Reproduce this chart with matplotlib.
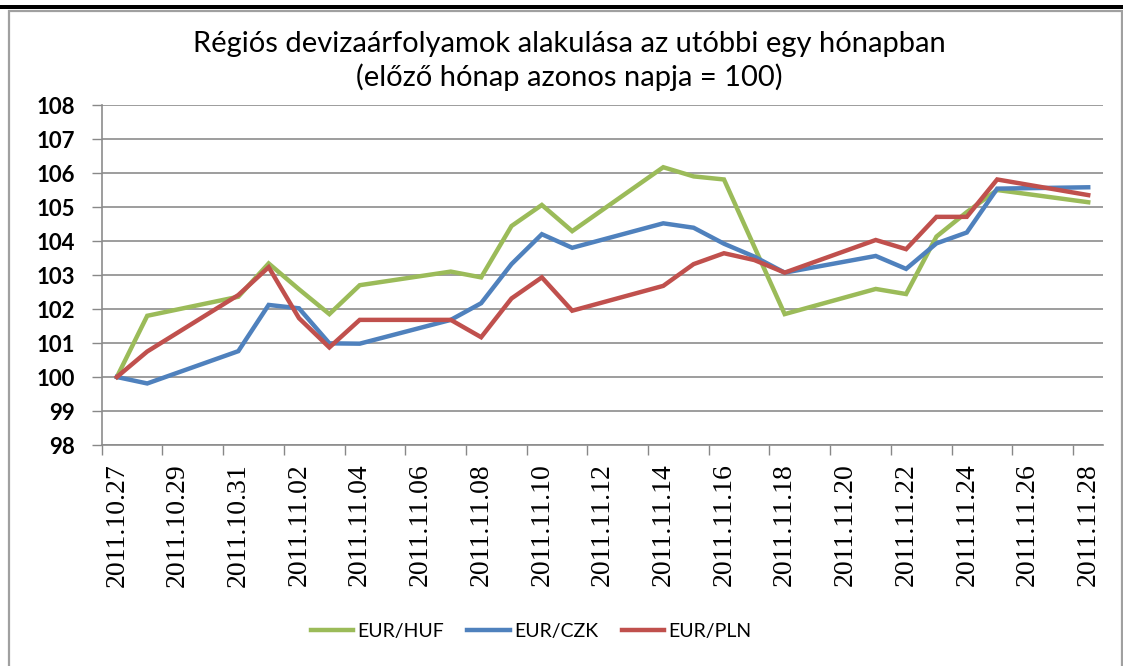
import datetime as dt
import matplotlib
matplotlib.use("Agg")
import matplotlib.pyplot as plt
from matplotlib.patches import Rectangle

# trading days shown in the chart
dates = ["2011.10.27", "2011.10.28", "2011.10.31", "2011.11.01", "2011.11.02",
         "2011.11.03", "2011.11.04", "2011.11.07", "2011.11.08", "2011.11.09",
         "2011.11.10", "2011.11.11", "2011.11.14", "2011.11.15", "2011.11.16",
         "2011.11.17", "2011.11.18", "2011.11.21", "2011.11.22", "2011.11.23",
         "2011.11.24", "2011.11.25", "2011.11.28"]

eur_huf = [100.0, 101.8, 102.36, 103.34, 102.58, 101.85, 102.7, 103.1, 102.93,
           104.44, 105.06, 104.29, 106.17, 105.9, 105.81, 103.83, 101.85,
           102.59, 102.44, 104.13, 104.85, 105.5, 105.14]
eur_czk = [100.0, 99.81, 100.76, 102.12, 102.02, 100.99, 100.98, 101.68, 102.17,
           103.32, 104.2, 103.8, 104.52, 104.39, 103.92, 103.54, 103.07,
           103.56, 103.18, 103.93, 104.25, 105.54, 105.58]
eur_pln = [100.0, 100.75, 102.41, 103.23, 101.73, 100.87, 101.68, 101.68, 101.17,
           102.31, 102.93, 101.95, 102.68, 103.32, 103.64, 103.44, 103.07,
           104.03, 103.76, 104.71, 104.71, 105.81, 105.35]

series = [("EUR/HUF", eur_huf, "#9BBB59"),
          ("EUR/CZK", eur_czk, "#4F81BD"),
          ("EUR/PLN", eur_pln, "#C0504D")]

title = "Régiós devizaárfolyamok alakulása az utóbbi egy hónapban\n(előző hónap azonos napja = 100)"

x = [dt.datetime.strptime(d, "%Y.%m.%d") for d in dates]

plt.rcParams["font.serif"] = ["Liberation Serif", "DejaVu Serif"]
sans = ["Lato", "DejaVu Sans"]

W, H = 1123, 666
fig = plt.figure(figsize=(W / 100, H / 100), dpi=100)
ax = fig.add_axes([101.7 / W, 1 - 445 / H, (1103.4 - 101.7) / W, (445 - 105) / H])

for name, vals, col in series:
    ax.plot(x, vals, color=col, lw=3.2, label=name, solid_joinstyle="miter")

half = dt.timedelta(hours=12)
ax.set_xlim(x[0] - half, x[-1] + half)
ax.set_ylim(98, 108)
ax.set_yticks(range(98, 109))

# labels every 2 days in the middle of the day, tick marks on day boundaries
lab_days = [x[0] + dt.timedelta(days=2 * i) for i in range(17)]
ax.set_xticks(lab_days)
ax.set_xticklabels([d.strftime("%Y.%m.%d") for d in lab_days], rotation=90,
                   family="serif", fontsize=20)
ax.tick_params(axis="x", length=0, pad=13)
ax.set_xticks([d - half for d in lab_days], minor=True)
ax.tick_params(axis="x", which="minor", length=7, color="#888888", width=1)

ax.tick_params(axis="y", length=7, color="#888888", width=1, pad=12)
for t in ax.get_yticklabels():
    t.set_family(sans)
    t.set_fontsize(16)
    t.set_fontweight("bold")

ax.grid(axis="y", color="#8c8c8c", lw=1.2)
ax.set_axisbelow(True)
for s in ["top", "right"]:
    ax.spines[s].set_visible(False)
for s in ["left", "bottom"]:
    ax.spines[s].set_color("#8c8c8c")
    ax.spines[s].set_linewidth(1.2)

fig.text(569 / W, 1 - 61 / H, title, ha="center", va="center",
         family=sans, fontsize=21, linespacing=1.25)

leg = fig.legend(loc="center", bbox_to_anchor=(531 / W, 1 - 631 / H), ncol=3,
                 frameon=False, handlelength=2.2, handletextpad=0.2,
                 columnspacing=1.2, prop={"family": sans, "size": 14})

# outer chart frame and the black rule at the top of the page
fig.patches.append(Rectangle((9 / W, -0.01), (1122 - 9) / W, 1.01 - 11 / H,
                             transform=fig.transFigure, fill=False,
                             ec="#a0a0a0", lw=1.6))
fig.patches.append(Rectangle((0, 1 - 9 / H), 1, 4 / H,
                             transform=fig.transFigure, color="black", lw=0))

fig.savefig("out.png", dpi=100)
